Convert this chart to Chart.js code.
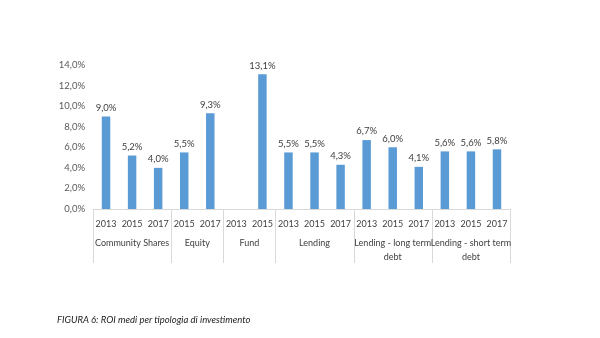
<!DOCTYPE html>
<html>
<head>
<meta charset="utf-8">
<script src="https://cdn.jsdelivr.net/npm/chart.js@4"></script>
<style>
  html, body { margin: 0; padding: 0; background: #fff; }
  #wrap { position: relative; width: 600px; height: 338px; }
  #caption {
    position: absolute; left: 57px; top: 314px;
    font: italic 9.5px Lato, sans-serif; color: #222;
  }
</style>
</head>
<body>
<div id="wrap">
  <canvas id="roiChart" width="600" height="338"></canvas>
  <div id="caption">FIGURA 6: ROI medi per tipologia di investimento</div>
</div>
<script>
// years per bar
const years = ['2013', '2015', '2017', '2015', '2017', '2013', '2015',
               '2013', '2015', '2017', '2013', '2015', '2017', '2013', '2015', '2017'];
// ROI values (%), null = no bar
const roi = [9.0, 5.2, 4.0, 5.5, 9.3, null, 13.1,
             5.5, 5.5, 4.3, 6.7, 6.0, 4.1, 5.6, 5.6, 5.8];
// investment types and how many years each covers
const groupNames = [['Community Shares'], ['Equity'], ['Fund'], ['Lending'],
                    ['Lending - long term', 'debt'], ['Lending - short term', 'debt']];
const groupSizes = [3, 2, 2, 3, 3, 3];

const FONT = 'Lato, sans-serif';
const fmt = v => v.toFixed(1).replace('.', ',') + '%';

// value labels on top of bars
const barLabels = {
    id: 'barLabels',
    afterDatasetsDraw(chart) {
        const ctx = chart.ctx;
        const meta = chart.getDatasetMeta(0);
        ctx.save();
        ctx.font = '9.5px ' + FONT;
        ctx.fillStyle = '#404040';
        ctx.textAlign = 'center';
        ctx.textBaseline = 'bottom';
        meta.data.forEach((bar, i) => {
            if (roi[i] == null) return;
            ctx.fillText(fmt(roi[i]), bar.x, bar.y - 4);
        });
        ctx.restore();
    }
};

// second level of the category axis
const groupAxis = {
    id: 'groupAxis',
    afterDraw(chart) {
        const ctx = chart.ctx;
        const area = chart.chartArea;
        const step = (area.right - area.left) / years.length;
        ctx.save();
        ctx.strokeStyle = '#d9d9d9';
        ctx.lineWidth = 1;
        ctx.font = '9px ' + FONT;
        ctx.fillStyle = '#404040';
        ctx.textAlign = 'center';
        ctx.textBaseline = 'middle';
        let start = 0;
        const edges = [0];
        groupSizes.forEach(n => { start += n; edges.push(start); });
        edges.forEach(e => {
            const px = Math.round(area.left + e * step) + 0.5;
            ctx.beginPath();
            ctx.moveTo(px, area.bottom);
            ctx.lineTo(px, area.bottom + 54);
            ctx.stroke();
        });
        groupNames.forEach((lines, g) => {
            const cx = area.left + (edges[g] + edges[g + 1]) / 2 * step;
            lines.forEach((t, k) => ctx.fillText(t, cx, area.bottom + 34 + k * 14));
        });
        ctx.restore();
    }
};

new Chart(document.getElementById('roiChart'), {
    type: 'bar',
    data: {
        labels: years,
        datasets: [{
            data: roi,
            backgroundColor: '#5b9bd5',
            barPercentage: 0.65,
            categoryPercentage: 0.5
        }]
    },
    options: {
        responsive: false,
        animation: false,
        layout: { padding: { left: 0, right: 90, top: 65, bottom: 0 } },
        plugins: { legend: { display: false }, tooltip: { enabled: false } },
        scales: {
            y: {
                min: 0, max: 14,
                ticks: {
                    stepSize: 2, padding: 0, color: '#595959',
                    font: { family: FONT, size: 9.5 },
                    callback: v => fmt(v)
                },
                grid: { display: false },
                border: { display: false },
                afterFit: s => { s.width = 93; }
            },
            x: {
                ticks: {
                    autoSkip: false, maxRotation: 0, padding: 2, color: '#404040',
                    font: { family: FONT, size: 9 }
                },
                grid: { display: false },
                border: { display: true, color: '#d9d9d9' },
                afterFit: s => { s.height = 129; }
            }
        }
    },
    plugins: [barLabels, groupAxis]
});
</script>
</body>
</html>
